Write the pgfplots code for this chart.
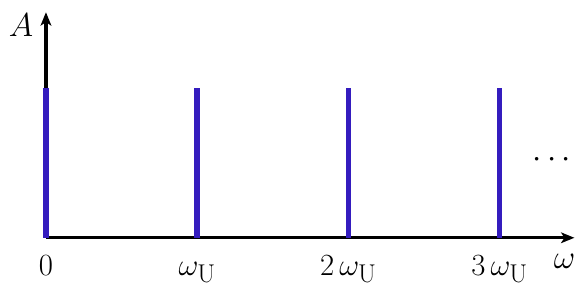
\documentclass[border=0pt]{standalone}
\usepackage{pgfplots}
\pgfplotsset{compat=1.18}
\usetikzlibrary{arrows.meta}
\definecolor{barblue}{RGB}{52,28,190}
\begin{document}
\begin{tikzpicture}
\begin{axis}[
  set layers,
  anchor=origin,
  x=113.5pt, y=112.5pt,
  axis lines=middle,
  axis line style={line width=2.4pt, -{Stealth[length=10pt,width=8pt,inset=2.5pt]}},
  xmin=0, xmax=3.495, ymin=0, ymax=1.505,
  xtick={0,1,2,3},
  xticklabels={$0$,$\omega_{\mathrm{U}}$,$2\,\omega_{\mathrm{U}}$,$3\,\omega_{\mathrm{U}}$},
  hide obscured x ticks=false,
  ytick=\empty,
  major tick length=0pt,
  xticklabel style={anchor=base, yshift=-28.5pt, font=\Huge, inner sep=0pt, scale=0.93, transform shape},
  clip=false,
]
\addplot[ycomb, color=barblue, line width=4pt, mark=none] coordinates {(0,1) (1,1) (2,1) (3,1)};
\node[font=\Huge, inner sep=0pt] at (axis cs:-0.165,1.42) {$A$};
\node[font=\Huge, inner sep=0pt] at (axis cs:3.43,-0.16) {$\omega$};
\node[font=\Huge, inner sep=0pt] at (axis cs:3.345,0.52) {$\cdots$};
\end{axis}
\path (-34.5pt,-34.5pt) rectangle (397.5pt,178.5pt);
\end{tikzpicture}
\end{document}
